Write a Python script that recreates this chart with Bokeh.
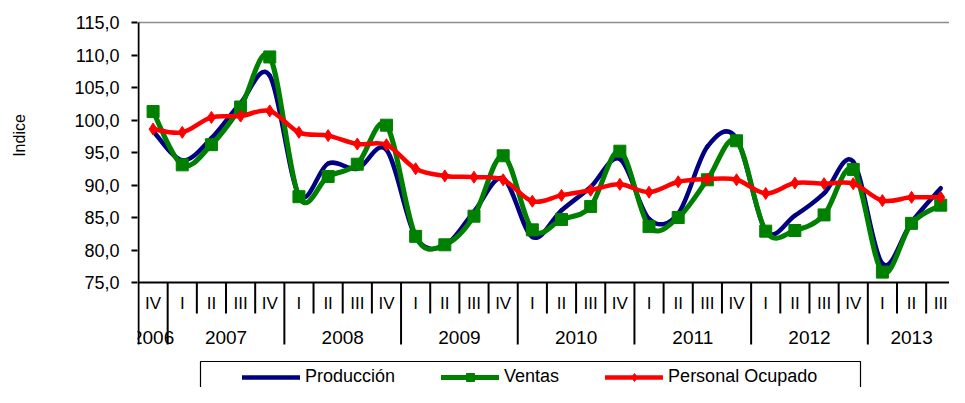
import math
from bokeh.plotting import figure
from bokeh.models import FixedTicker, Legend, LegendItem, Label, ColumnDataSource
from bokeh.core.properties import value
from bokeh.embed import file_html
from bokeh.resources import INLINE

# ---------------- data ----------------
quarters = ["IV", "I", "II", "III", "IV", "I", "II", "III", "IV", "I", "II", "III", "IV",
            "I", "II", "III", "IV", "I", "II", "III", "IV", "I", "II", "III", "IV",
            "I", "II", "III"]
cat_year = ["2006"] + ["2007"] * 4 + ["2008"] * 4 + ["2009"] * 4 + ["2010"] * 4 + \
           ["2011"] * 4 + ["2012"] * 4 + ["2013"] * 3
year_labels = ["2006", "2007", "2008", "2009", "2010", "2011", "2012", "2013"]

produccion = [98.3, 93.8, 97.2, 102.6, 106.8, 88.5, 93.3, 92.5, 95.4, 82.0, 80.7, 85.9,
              91.0, 82.0, 86.1, 89.7, 94.0, 84.8, 85.6, 95.9, 97.2, 83.0, 85.3, 88.7,
              93.6, 77.9, 84.3, 89.5]
ventas = [101.3, 93.1, 96.2, 102.0, 109.7, 88.2, 91.3, 93.2, 99.2, 82.1, 80.8, 85.2,
          94.5, 83.1, 84.7, 86.7, 95.2, 83.6, 85.0, 90.8, 96.8, 82.9, 83.0, 85.4,
          92.4, 76.6, 84.1, 86.9]
personal = [98.6, 98.1, 100.4, 100.6, 101.4, 98.1, 97.6, 96.3, 96.2, 92.5, 91.4, 91.2,
            90.8, 87.5, 88.4, 89.2, 90.1, 88.9, 90.5, 90.9, 90.8, 88.7, 90.3, 90.2,
            90.2, 87.6, 88.1, 88.1]

y_ticks = [75, 80, 85, 90, 95, 100, 105, 110, 115]
y_tick_labels = ["75,0", "80,0", "85,0", "90,0", "95,0", "100,0", "105,0", "110,0", "115,0"]

series_names = ["Producción", "Ventas", "Personal Ocupado"]
y_title = "Indice"

# ---------------- layout helpers (picture pixels) ----------------
FONT = "Liberation Sans"
W, H = 949, 387
BORDER_L = 137            # frame left edge
BORDER_T = 20             # frame top edge
FRAME_W = W - BORDER_L
X_END = 27.3
DX = (FRAME_W - 1) / (X_END + 0.5)   # px per category
PY = 6.5                              # px per index unit
X_START = -0.5 - 1 / DX
Y_END = 75 + (282 - BORDER_T) / PY
Y_START = 75 + (282 - H) / PY


def xv(px):
    return -0.5 + (px - 138) / DX


def yv(py):
    return 75 + (282 - py) / PY


def smooth(xs, ys):
    n = len(xs)
    d = dict(x0=[], y0=[], x1=[], y1=[], cx0=[], cy0=[], cx1=[], cy1=[])
    for i in range(n - 1):
        a = i - 1 if i > 0 else i
        b = i + 2 if i + 2 < n else i + 1
        d["x0"].append(xs[i]); d["y0"].append(ys[i])
        d["x1"].append(xs[i + 1]); d["y1"].append(ys[i + 1])
        d["cx0"].append(xs[i] + (xs[i + 1] - xs[a]) / 6)
        d["cy0"].append(ys[i] + (ys[i + 1] - ys[a]) / 6)
        d["cx1"].append(xs[i + 1] - (xs[b] - xs[i]) / 6)
        d["cy1"].append(ys[i + 1] - (ys[b] - ys[i]) / 6)
    return ColumnDataSource(d)


xs = list(range(len(quarters)))

p = figure(width=W, height=H, x_range=(X_START, X_END), y_range=(Y_START, Y_END),
           output_backend="svg", toolbar_location=None, title=None,
           x_axis_location=None, min_border_left=BORDER_L, min_border_top=BORDER_T,
           min_border_right=0, min_border_bottom=0)
p.outline_line_color = None
p.grid.visible = False
p.background_fill_color = "white"
p.border_fill_color = "white"

# y axis
ya = p.yaxis[0]
ya.ticker = FixedTicker(ticks=y_ticks, minor_ticks=[])
ya.major_label_overrides = {t: l for t, l in zip(y_ticks, y_tick_labels)}
ya.major_label_text_font = FONT
ya.major_label_text_font_size = "18px"
ya.major_label_text_color = "black"
ya.major_label_standoff = 12
ya.major_tick_out = 6
ya.major_tick_in = 0
ya.major_tick_line_width = 2
ya.major_tick_line_color = "black"
ya.minor_tick_out = 0
ya.minor_tick_in = 0
ya.axis_line_color = None

# y axis title, placed in the left side panel (screen units of that panel)
p.add_layout(Label(x=-35, y=H - 135, x_units="screen", y_units="screen", text=y_title,
                   angle=math.pi / 2, text_font=FONT, text_font_size="16px",
                   text_align="center", text_baseline="middle", text_color="black"), "left")

# frame lines
p.segment(x0=[-0.5], y0=[115], x1=[X_END], y1=[115], line_color="#8c8c8c", line_width=1.5)
p.segment(x0=[-0.5], y0=[yv(344)], x1=[-0.5], y1=[115], line_color="black", line_width=2)
p.segment(x0=[-0.5], y0=[75], x1=[X_END], y1=[75], line_color="black", line_width=2)

# category separators
q_x, y_x = [], []
for i in range(len(quarters) - 1):
    if cat_year[i] != cat_year[i + 1]:
        y_x.append(i + 0.5)
    else:
        q_x.append(i + 0.5)
p.segment(x0=q_x, y0=[75] * len(q_x), x1=q_x, y1=[yv(313)] * len(q_x),
          line_color="black", line_width=2)
p.segment(x0=y_x, y0=[75] * len(y_x), x1=y_x, y1=[yv(344)] * len(y_x),
          line_color="black", line_width=2)

# quarter labels
p.text(x=xs, y=[yv(303)] * len(xs), text=quarters, text_font=value(FONT),
       text_font_size="17px", text_align="center", text_baseline="middle", text_color="black")
# year labels
yc = []
for yl in year_labels:
    idx = [i for i, c in enumerate(cat_year) if c == yl]
    yc.append(sum(idx) / len(idx))
p.text(x=yc, y=[yv(337)] * len(yc), text=year_labels, text_font=value(FONT),
       text_font_size="19px", text_align="center", text_baseline="middle", text_color="black")

# series
NAVY, GREEN, RED = "#000080", "#008000", "#ff0000"
r_prod = p.bezier(x0="x0", y0="y0", x1="x1", y1="y1", cx0="cx0", cy0="cy0", cx1="cx1",
                  cy1="cy1", source=smooth(xs, produccion), line_color=NAVY, line_width=4.5,
                  line_cap="round")
r_ven = p.bezier(x0="x0", y0="y0", x1="x1", y1="y1", cx0="cx0", cy0="cy0", cx1="cx1",
                 cy1="cy1", source=smooth(xs, ventas), line_color=GREEN, line_width=5,
                 line_cap="round")
r_ven_m = p.scatter(x=xs, y=ventas, marker="square", size=12, fill_color=GREEN,
                    line_color=GREEN)
r_per = p.bezier(x0="x0", y0="y0", x1="x1", y1="y1", cx0="cx0", cy0="cy0", cx1="cx1",
                 cy1="cy1", source=smooth(xs, personal), line_color=RED, line_width=4.5,
                 line_cap="round")
r_per_m = p.scatter(x=xs, y=personal, marker="diamond", size=12, fill_color=RED,
                    line_color=RED)

# legend box
p.quad(left=[xv(200)], right=[xv(860)], top=[yv(361)], bottom=[Y_START - 5],
       fill_color=None, line_color="black", line_width=1.2)

legend = Legend(items=[LegendItem(label=series_names[0], renderers=[r_prod]),
                       LegendItem(label=series_names[1], renderers=[r_ven, r_ven_m]),
                       LegendItem(label=series_names[2], renderers=[r_per, r_per_m])],
                location=(105, 0), orientation="horizontal", padding=0, spacing=46,
                glyph_width=58, glyph_height=20, label_standoff=5, margin=0,
                label_text_font=FONT, label_text_font_size="18px",
                label_text_color="black", border_line_color=None,
                background_fill_color=None)
p.add_layout(legend, "center")

open("out.html", "w").write(file_html(p, INLINE))
